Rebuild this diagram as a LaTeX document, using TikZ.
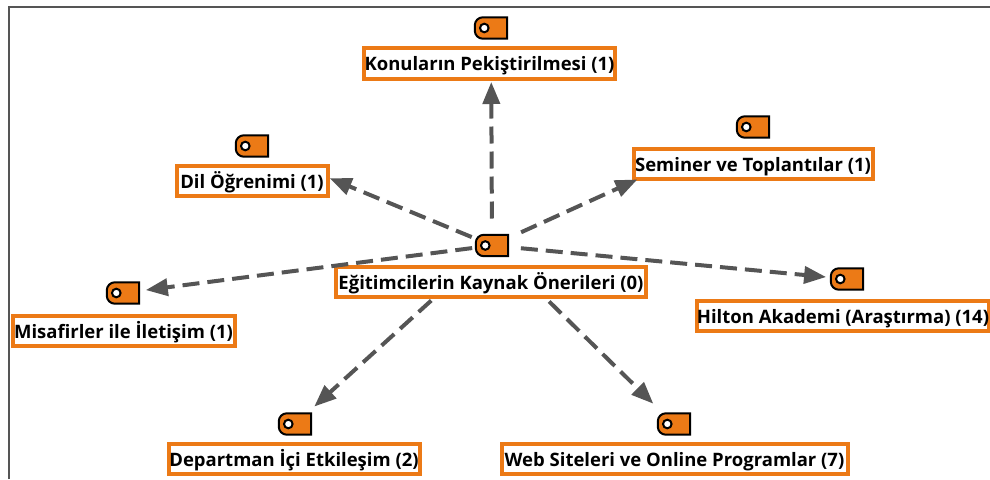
\documentclass[tikz,border=0pt]{standalone}
\usepackage{fontspec}
\setmainfont{Open Sans}
\usetikzlibrary{arrows.meta}
\definecolor{tagorange}{HTML}{EC7A16}
\definecolor{edgegray}{HTML}{555555}
\tikzset{
  labelbox/.style={draw=tagorange,line width=4pt,fill=white,inner sep=0pt,
    minimum height=30.5pt,text height=16pt,text depth=2pt,font=\fontsize{18.5}{22}\selectfont\bfseries,text=black},
  iconbox/.style={inner sep=0pt,minimum width=32pt,minimum height=21pt},
  link/.style={draw=edgegray,line width=4pt,dash pattern=on 17pt off 8pt,
    -{Triangle[length=22pt,width=17pt]}},
  frameline/.style={draw=edgegray,line width=2pt}
}
\newcommand{\tagicon}[3]{%
  \node[iconbox] (#1) at (#2,#3) {};
  \draw[black,line width=2pt,fill=tagorange]
    (#1.north east) [rounded corners=8pt] -- (#1.north west) -- (#1.south west) [sharp corners] -- (#1.south east) -- cycle;
  \draw[black,line width=2pt,fill=white] ([xshift=9.5pt]#1.west) circle (4.3pt);
}
\begin{document}
\begin{tikzpicture}[x=1pt,y=-1pt]
\useasboundingbox (0,0) rectangle (990,479);
\coordinate (frameA) at (9,479);
\coordinate (frameB) at (9,7);
\coordinate (frameC) at (990,7);
\draw[frameline] (frameA) -- (frameB) -- (frameC);

\node[labelbox,minimum width=251pt] (top) at (489.5,63.5) {Konuların Pekiştirilmesi (1)};
\node[labelbox,minimum width=151pt] (dil) at (252,181) {Dil Öğrenimi (1)};
\node[labelbox,minimum width=239pt] (sem) at (753,164) {Seminer ve Toplantılar (1)};
\node[labelbox,minimum width=310pt] (cen) at (491,282) {Eğitimcilerin Kaynak Önerileri (0)};
\node[labelbox,minimum width=222pt] (mis) at (123.5,331) {Misafirler ile İletişim (1)};
\node[labelbox,minimum width=291pt] (hil) at (843,316) {Hilton Akademi (Araştırma) (14)};
\node[labelbox,minimum width=251pt] (dep) at (294,459) {Departman İçi Etkileşim (2)};
\node[labelbox,minimum width=346pt] (web) at (674.5,459) {Web Siteleri ve Online Programlar (7)};

\tagicon{itop}{491}{28}
\tagicon{idil}{252}{146}
\tagicon{isem}{753}{127}
\tagicon{icen}{492}{245.5}
\tagicon{imis}{123}{293}
\tagicon{ihil}{847}{279}
\tagicon{idep}{295}{424}
\tagicon{iweb}{674}{424}

\draw[link,shorten <=27pt,shorten >=54pt] (icen.center) -- (itop.center);
\draw[link,shorten <=22pt,shorten >=84pt] (icen.center) -- (idil.center);
\draw[link,shorten <=32pt,shorten >=127pt] (icen.center) -- (isem.center);
\draw[link,shorten <=20pt,shorten >=23pt] (icen.center) -- (imis.center);
\draw[link,shorten <=29pt,shorten >=21pt] (icen.center) -- (ihil.center);
\draw[link,shorten <=82pt,shorten >=26pt] (icen.center) -- (idep.center);
\draw[link,shorten <=80pt,shorten >=29pt] (icen.center) -- (iweb.center);
\end{tikzpicture}
\end{document}
